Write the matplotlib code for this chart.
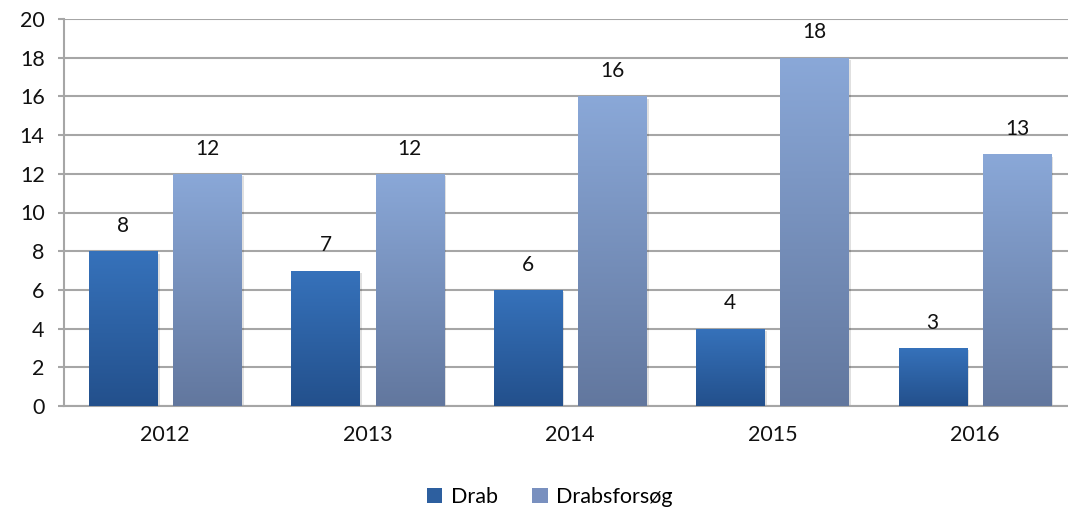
import matplotlib
matplotlib.use("Agg")
import matplotlib.pyplot as plt
import numpy as np
from matplotlib.colors import LinearSegmentedColormap

years = ["2012", "2013", "2014", "2015", "2016"]
drab = [8, 7, 6, 4, 3]
drabsforsog = [12, 12, 16, 18, 13]
series_names = ["Drab", "Drabsforsøg"]

plt.rcParams['font.family'] = ['Lato', 'DejaVu Sans']

fig = plt.figure(figsize=(10.68, 5.14), dpi=100)
ax = fig.add_axes([64/1068, 108/514, 1004/1068, 387/514])

x = np.arange(len(years))
w = 0.336
off = 0.208

grad_specs = [("#3672bb", "#23508c"), ("#8aa8d8", "#62779e")]
legend_colors = ["#2d5f9f", "#7990bf"]

ax.set_ylim(0, 20)
ax.set_xlim(-0.5, -0.5 + 1004/202.4)

for i, (vals, (ctop, cbot)) in enumerate(zip([drab, drabsforsog], grad_specs)):
    pos = x + (-off if i == 0 else off)
    # shadow
    for p, v in zip(pos, vals):
        ax.bar(p + 0.012, v, w, bottom=-0.12, color="#000000", alpha=0.12, zorder=2, linewidth=0)
    bars = ax.bar(pos, vals, w, color=legend_colors[i], zorder=3, linewidth=0, label=series_names[i])
    cmap = LinearSegmentedColormap.from_list("g%d" % i, [cbot, ctop])
    grad = np.linspace(0, 1, 256).reshape(-1, 1)
    for b, p, v in zip(bars, pos, vals):
        im = ax.imshow(grad, cmap=cmap, origin="lower", aspect="auto",
                       extent=[p - w/2, p + w/2, 0, v], zorder=4, interpolation="bilinear")
        im.set_clip_path(b)
        ax.annotate(str(v), (p, v), xytext=(0, 11), textcoords="offset points",
                    ha="center", va="bottom", fontsize=15, color="#111111", zorder=5)

ax.set_xlim(-0.5, -0.5 + 1004/202.4)
ax.set_ylim(0, 20)
ax.set_yticks(range(0, 21, 2))
ax.set_xticks(x)
ax.set_xticklabels(years)
ax.yaxis.grid(True, color="#a6a6a6", linewidth=1.5, zorder=0)
ax.set_axisbelow(True)
for s in ["top", "right"]:
    ax.spines[s].set_visible(False)
ax.spines["left"].set_color("#a6a6a6")
ax.spines["left"].set_linewidth(1.5)
ax.spines["bottom"].set_color("#a6a6a6")
ax.spines["bottom"].set_linewidth(1.5)
ax.tick_params(axis="y", length=4, width=1.5, color="#a6a6a6", labelsize=15.5, pad=10, labelcolor="#111111")
ax.tick_params(axis="x", length=0, labelsize=15.5, pad=14, labelcolor="#111111")

handles, labels = ax.get_legend_handles_labels()
fig.legend(handles, labels, loc="center", bbox_to_anchor=(550/1068, 1 - 497/514), ncol=2,
           frameon=False, fontsize=15.5, handlelength=0.7, handleheight=0.7,
           handletextpad=0.4, columnspacing=1.6)

fig.savefig("out.png", dpi=100)
